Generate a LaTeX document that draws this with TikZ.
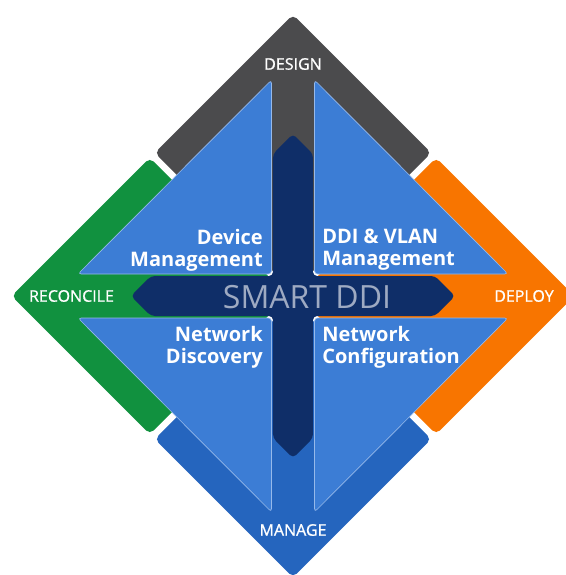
\documentclass[tikz,border=0pt]{standalone}
\usepackage{fontspec}
\setmainfont{Open Sans}
\usepackage{tikz}
\usetikzlibrary{positioning}
\definecolor{designgrey}{RGB}{75,75,77}
\definecolor{reconcilegreen}{RGB}{17,145,63}
\definecolor{deployorange}{RGB}{248,117,0}
\definecolor{manageblue}{RGB}{37,101,190}
\definecolor{tileblue}{RGB}{60,125,213}
\definecolor{tileedge}{RGB}{150,185,234}
\definecolor{darknavy}{RGB}{15,46,104}
\definecolor{smarttext}{RGB}{158,170,194}

\tikzset{
  phase/.style={text=white, font=\fontsize{12}{14}\selectfont\addfontfeature{FakeBold=1}, inner sep=0pt},
  tile/.style={fill=tileblue, draw=tileedge, line width=0.5pt, rounded corners=2.5},
  tilelabel/.style={text=white, font=\fontsize{15}{16.5}\selectfont\bfseries, inner sep=0pt},
}

\begin{document}
\begin{tikzpicture}[x=0.75pt,y=0.75pt]
        \useasboundingbox (-293,-279) rectangle (272,296);

        % outer phases
        \begin{scope}[rotate=45]
          \fill[designgrey, rounded corners=4] (3.5,3.5) rectangle (199,199);
          \fill[deployorange, rounded corners=4] (3.5,-3.5) rectangle (199,-199);
          \fill[manageblue, rounded corners=4] (-3.5,-3.5) rectangle (-199,-199);
          \fill[reconcilegreen, rounded corners=4] (-3.5,3.5) rectangle (-199,199);
        \end{scope}

        % central cross
        \fill[darknavy, rounded corners=3] (20,20) -- (20,142) -- (0,162) -- (-20,142) -- (-20,20)
          -- (-142,20) -- (-162,0) -- (-142,-20) -- (-20,-20)
          -- (-20,-142) -- (0,-162) -- (20,-142) -- (20,-20)
          -- (142,-20) -- (162,0) -- (142,20) -- cycle;

        % four tiles
        \draw[tile] (-21.5,22) -- (-21.5,216) -- (-215,22) -- cycle;
        \draw[tile] (21.5,22) -- (21.5,216) -- (215,22) -- cycle;
        \draw[tile] (-21.5,-22) -- (-21.5,-216) -- (-215,-22) -- cycle;
        \draw[tile] (21.5,-22) -- (21.5,-216) -- (215,-22) -- cycle;

        % phase labels
        \node[phase] (design) at (0,232) {DESIGN};
        \node[phase] (deploy) at (231,0) {DEPLOY};
        \node[phase] (manage) at (0,-234) {MANAGE};
        \node[phase] (reconcile) at (-221.5,0) {RECONCILE};

        % tile labels
        \node[tilelabel, align=right, anchor=north east] (device) at (-30,67) {Device\\Management};
        \node[tilelabel, align=left, anchor=north west] (ddi) at (29,67) {DDI \& VLAN\\Management};
        \node[tilelabel, align=right, anchor=north east] (discovery) at (-30,-30) {Network\\Discovery};
        \node[tilelabel, align=left, anchor=north west] (config) at (29,-30) {Network\\Configuration};

        \node[text=smarttext, font=\fontsize{24}{26}\selectfont, inner sep=0pt] (smart) at (14,-1) {SMART DDI};
\end{tikzpicture}
\end{document}
